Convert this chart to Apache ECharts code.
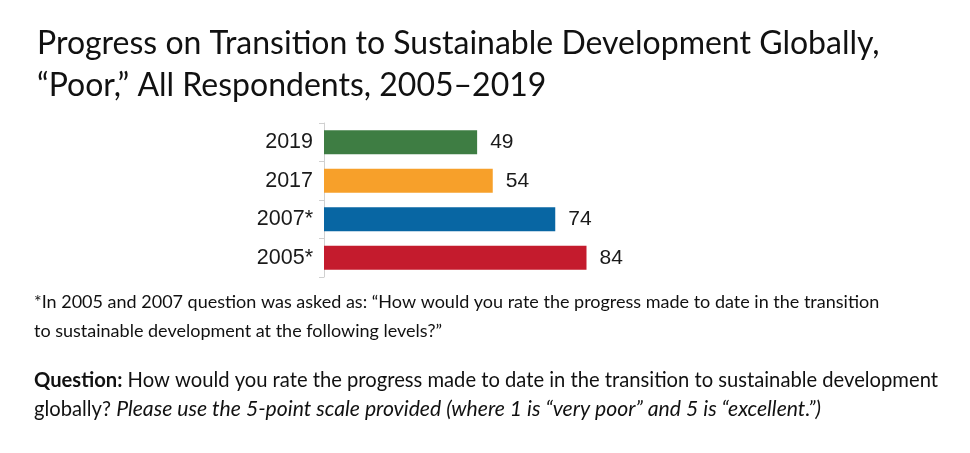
<!DOCTYPE html>
<html>
<head>
<meta charset="utf-8">
<script src="https://cdn.jsdelivr.net/npm/echarts@6/dist/echarts.min.js"></script>
<style>html,body{margin:0;padding:0;background:#fff}#c{width:970px;height:453px}</style>
</head>
<body>
<div id="c"></div>
<script>
const categories = ['2019', '2017', '2007*', '2005*'];
const values = [49, 54, 74, 84];
const barColors = ['#3e7d43', '#f7a02a', '#0866a3', '#c41b2d'];
const titleLines = ['Progress on Transition to Sustainable Development Globally,', '\u201cPoor,\u201d All Respondents, 2005\u20132019'];
const footnoteLines = ['*In 2005 and 2007 question was asked as: \u201cHow would you rate the progress made to date in the transition', 'to sustainable development at the following levels?\u201d'];

const chart = echarts.init(document.getElementById('c'));
const textFont = 'Lato';
chart.setOption({
  animation: false,
  backgroundColor: '#fff',
  title: {
    text: titleLines.join('\n'),
    left: 32, top: 18,
    textStyle: { fontFamily: textFont, fontWeight: 'normal', fontSize: 32, lineHeight: 42, color: '#111' }
  },
  grid: { left: 324, right: 333.5, top: 123, bottom: 176 },
  xAxis: { type: 'value', min: 0, max: 100, show: false },
  yAxis: {
    type: 'category', data: categories, inverse: true,
    axisLine: { show: true, lineStyle: { color: '#d0d0d0', width: 1 } },
    axisTick: { show: true, length: 5, lineStyle: { color: '#d0d0d0' } },
    axisLabel: { margin: 11, fontFamily: 'Liberation Sans', fontSize: 21.5, color: '#1a1a1a' }
  },
  series: [{
    type: 'bar', barWidth: 24,
    data: values.map((v, i) => ({ value: v, itemStyle: { color: barColors[i] } })),
    label: { show: true, position: 'right', distance: 13, fontFamily: 'Liberation Sans', fontSize: 21, color: '#1a1a1a' }
  }],
  graphic: [
    { type: 'text', left: 34, top: 288, style: { text: footnoteLines.join('\n'), font: '18px Lato', lineHeight: 29, fill: '#111' } },
    { type: 'text', left: 34, top: 366, style: {
      text: '{b|Question:} How would you rate the progress made to date in the transition to sustainable development\nglobally? {i|Please use the 5-point scale provided (where 1 is \u201cvery poor\u201d and 5 is \u201cexcellent.\u201d)}',
      font: '20.2px Lato', lineHeight: 29, fill: '#111',
      rich: { b: { fontWeight: 'bold', fontFamily: 'Lato', fontSize: 20.2 }, i: { fontStyle: 'italic', fontFamily: 'Lato', fontSize: 21.2 } }
    } }
  ]
});
</script>
</body>
</html>
